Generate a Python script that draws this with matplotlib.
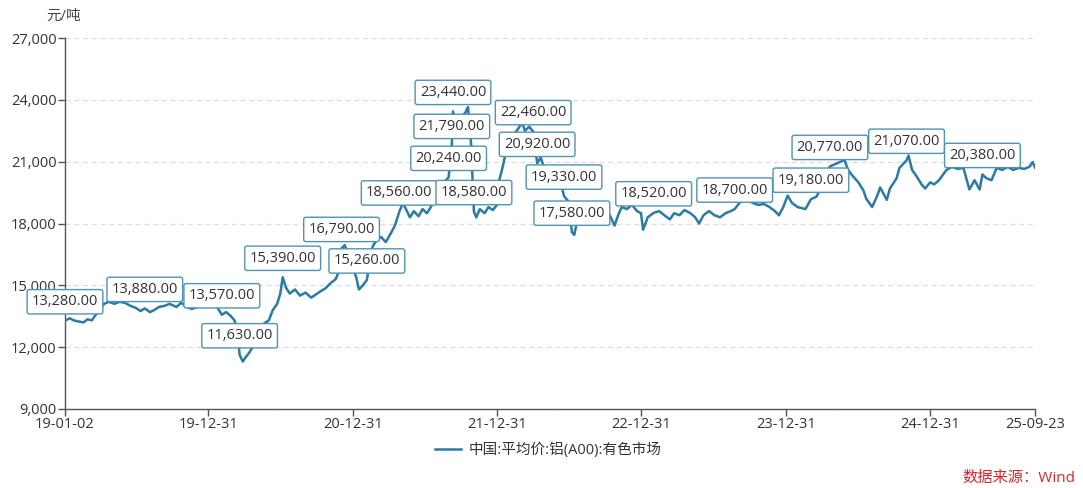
import matplotlib
matplotlib.use("Agg")
import matplotlib.pyplot as plt
import matplotlib.dates as mdates
from matplotlib.ticker import FuncFormatter
import pandas as pd

plt.rcParams['font.family'] = ['Open Sans', 'Noto Sans CJK SC', 'DejaVu Sans']

# price series (元/吨)
dates = [
    "2019-01-02", "2019-01-14", "2019-01-24", "2019-02-04", "2019-02-18", "2019-02-28",
    "2019-03-11", "2019-03-20", "2019-04-01", "2019-04-11", "2019-04-23", "2019-05-07",
    "2019-05-20", "2019-06-03", "2019-06-17", "2019-07-01", "2019-07-12", "2019-07-23",
    "2019-08-05", "2019-08-16", "2019-08-28", "2019-09-10", "2019-09-24", "2019-10-11",
    "2019-10-23", "2019-11-06", "2019-11-19", "2019-12-03", "2019-12-17", "2019-12-31",
    "2020-01-14", "2020-02-03", "2020-02-14", "2020-02-26", "2020-03-06", "2020-03-13",
    "2020-03-19", "2020-03-27", "2020-04-03", "2020-04-13", "2020-04-24", "2020-05-08",
    "2020-05-20", "2020-06-01", "2020-06-11", "2020-06-22", "2020-06-30", "2020-07-06",
    "2020-07-14", "2020-07-24", "2020-08-06", "2020-08-19", "2020-09-02", "2020-09-16",
    "2020-10-09", "2020-10-22", "2020-11-04", "2020-11-17", "2020-11-26", "2020-12-02",
    "2020-12-10", "2020-12-22", "2021-01-08", "2021-01-15", "2021-01-25", "2021-02-04",
    "2021-02-19", "2021-03-01", "2021-03-12", "2021-03-24", "2021-04-05", "2021-04-16",
    "2021-04-27", "2021-05-06", "2021-05-14", "2021-05-24", "2021-06-03", "2021-06-15",
    "2021-06-25", "2021-07-06", "2021-07-16", "2021-07-26", "2021-08-06", "2021-08-18",
    "2021-08-30", "2021-09-07", "2021-09-10", "2021-09-17", "2021-09-28", "2021-10-12",
    "2021-10-18", "2021-10-22", "2021-10-26", "2021-10-29", "2021-11-02", "2021-11-08",
    "2021-11-17", "2021-11-29", "2021-12-09", "2021-12-20", "2021-12-30", "2022-01-05",
    "2022-01-12", "2022-01-19", "2022-01-26", "2022-02-10", "2022-02-22", "2022-03-04",
    "2022-03-11", "2022-03-22", "2022-04-01", "2022-04-07", "2022-04-11", "2022-04-20",
    "2022-04-29", "2022-05-12", "2022-05-25", "2022-06-07", "2022-06-18", "2022-06-28",
    "2022-07-04", "2022-07-08", "2022-07-14", "2022-07-22", "2022-08-03", "2022-08-16",
    "2022-08-31", "2022-09-14", "2022-09-28", "2022-10-12", "2022-10-24", "2022-11-02",
    "2022-11-11", "2022-11-24", "2022-12-07", "2022-12-20", "2022-12-30", "2023-01-04",
    "2023-01-16", "2023-01-31", "2023-02-14", "2023-02-27", "2023-03-13", "2023-03-24",
    "2023-04-06", "2023-04-19", "2023-05-04", "2023-05-16", "2023-05-26", "2023-06-06",
    "2023-06-20", "2023-07-04", "2023-07-18", "2023-08-01", "2023-08-14", "2023-08-24",
    "2023-09-05", "2023-09-19", "2023-10-09", "2023-10-23", "2023-11-06", "2023-11-20",
    "2023-12-04", "2023-12-14", "2023-12-25", "2024-01-05", "2024-01-16", "2024-01-30",
    "2024-02-19", "2024-03-04", "2024-03-18", "2024-03-29", "2024-04-12", "2024-04-21",
    "2024-05-06", "2024-05-28", "2024-06-06", "2024-06-18", "2024-07-02", "2024-07-15",
    "2024-07-22", "2024-08-06", "2024-08-20", "2024-08-26", "2024-09-12", "2024-09-20",
    "2024-10-07", "2024-10-14", "2024-10-24", "2024-11-01", "2024-11-06", "2024-11-15",
    "2024-11-26", "2024-12-09", "2024-12-18", "2024-12-31", "2025-01-10", "2025-01-22",
    "2025-02-10", "2025-02-24", "2025-03-10", "2025-03-25", "2025-04-09", "2025-04-22",
    "2025-05-05", "2025-05-12", "2025-05-22", "2025-06-04", "2025-06-17", "2025-07-01",
    "2025-07-15", "2025-07-29", "2025-08-12", "2025-08-26", "2025-09-08", "2025-09-16",
    "2025-09-23",
]
prices = [
    13280, 13400, 13300, 13250, 13200, 13350,
    13300, 13550, 13850, 14100, 14200, 14100,
    14200, 14150, 14000, 13900, 13750, 13880,
    13700, 13800, 13950, 14000, 14100, 13950,
    14150, 13950, 13850, 13950, 14100, 14000,
    14200, 13570, 13700, 13500, 13300, 12800,
    11630, 11300, 11500, 11750, 12100, 12600,
    13150, 13300, 13800, 14100, 14600, 15390,
    14900, 14600, 14800, 14500, 14650, 14400,
    14700, 14850, 15100, 15300, 15700, 16790,
    16950, 16300, 15400, 14800, 15000, 15260,
    16900, 17200, 17350, 17100, 17500, 17900,
    18560, 19000, 18700, 18300, 18600, 18350,
    18700, 18500, 18800, 19200, 19700, 20000,
    20240, 21790, 23440, 22900, 23100, 23400,
    23650, 22800, 21800, 20400, 18580, 18300,
    18700, 18500, 18800, 18650, 18900, 20100,
    20600, 21200, 21700, 22300, 22600, 22900,
    22500, 22700, 22460, 21600, 20920, 21200,
    20700, 20300, 20600, 20200, 19330, 19100,
    18300, 17580, 17450, 18200, 18500, 18800,
    18600, 18900, 18500, 18400, 17900, 18400,
    18800, 18700, 18900, 18600, 18500, 17700,
    18300, 18520, 18600, 18400, 18200, 18500,
    18400, 18650, 18500, 18300, 18000, 18400,
    18600, 18400, 18300, 18500, 18600, 18700,
    19000, 19200, 19000, 18900, 18950, 18800,
    18600, 18400, 18800, 19350, 19000, 18800,
    18700, 19180, 19300, 19700, 20300, 20770,
    20900, 21080, 20600, 20300, 20000, 19600,
    19200, 18800, 19400, 19750, 19150, 19700,
    20200, 20700, 20900, 21070, 21300, 20600,
    20300, 19900, 19700, 20000, 19900, 20100,
    20600, 20750, 20650, 20700, 19650, 20100,
    19650, 20380, 20200, 20100, 20700, 20600,
    20750, 20600, 20700, 20650, 20750, 20980,
    20690,
]

# labelled points
mark_dates = [
    "2019-01-02", "2019-07-23", "2020-02-03", "2020-03-19", "2020-07-06", "2020-12-02",
    "2021-02-04", "2021-04-27", "2021-08-30", "2021-09-07", "2021-09-10", "2021-11-02",
    "2022-04-01", "2022-04-11", "2022-06-18", "2022-07-08", "2023-01-31", "2023-08-24",
    "2024-03-04", "2024-04-21", "2024-11-01", "2025-05-12",
]
mark_values = [
    13280, 13880, 13570, 11630, 15390, 16790,
    15260, 18560, 20240, 21790, 23440, 18580,
    22460, 20920, 19330, 17580, 18520, 18700,
    19180, 20770, 21070, 20380,
]

tick_dates = ["2019-01-02", "2019-12-31", "2020-12-31", "2021-12-31",
              "2022-12-31", "2023-12-31", "2024-12-31", "2025-09-23"]

series_name = "中国:平均价:铝(A00):有色市场"
line_color = "#2a7ba5"

x = pd.to_datetime(dates)
xm = pd.to_datetime(mark_dates)
xt = pd.to_datetime(tick_dates)

fig = plt.figure(figsize=(10.83, 4.88), dpi=100)
ax = fig.add_axes([0.060, 0.162, 0.896, 0.760])

ax.plot(x, prices, color=line_color, lw=1.8, label=series_name, zorder=3)

for d, v in zip(xm, mark_values):
    ax.annotate(f"{v:,.2f}", xy=(d, v), xytext=(0, 19), textcoords="offset pixels",
                ha="center", va="center", fontsize=10.5, color="#333333", zorder=5,
                bbox=dict(boxstyle="round,pad=0.32,rounding_size=0.15", fc="white",
                          ec="#4f93b5", lw=1.0))

ax.set_xlim(xt[0], xt[-1])
ax.set_ylim(9000, 27000)
ax.set_yticks(range(9000, 27001, 3000))
ax.yaxis.set_major_formatter(FuncFormatter(lambda v, p: f"{int(v):,}"))
ax.set_xticks(xt)
ax.xaxis.set_major_formatter(mdates.DateFormatter("%y-%m-%d"))

ax.grid(axis="y", color="#dddddd", ls=(0, (4, 3)), lw=0.9)
ax.set_axisbelow(True)
for s in ["top", "right"]:
    ax.spines[s].set_visible(False)
for s in ["left", "bottom"]:
    ax.spines[s].set_color("#555555")
    ax.spines[s].set_linewidth(1.0)
ax.tick_params(axis="both", colors="#555555", length=5, width=1.0,
               labelsize=10.5, labelcolor="#333333", pad=1)

fig.text(64 / 1083, 1 - 16 / 488, "元/吨", ha="center", va="center",
         fontsize=10.5, color="#444444")

fig.legend(loc="center", bbox_to_anchor=(548 / 1083, 1 - 450 / 488), frameon=False,
           fontsize=10.5, handlelength=1.8, handletextpad=0.5, labelcolor="#333333")

fig.text(1075 / 1083, 1 - 478 / 488, "数据来源：Wind", ha="right", va="center",
         fontsize=11, color="#e0242a")

fig.savefig("out.png", dpi=100)
